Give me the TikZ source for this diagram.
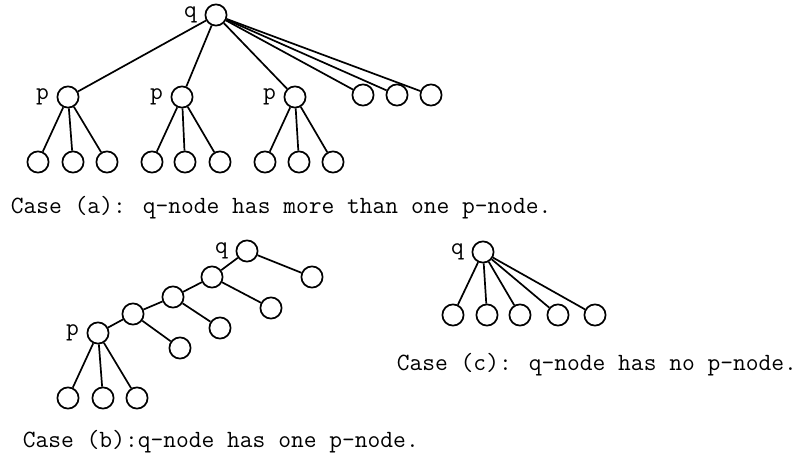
\documentclass[tikz,border=0pt]{standalone}
\usepackage{fontspec}
\usepackage{tikz}

\begin{document}
\begin{tikzpicture}[-,line width=0.85pt,x=0.5pt,y=-0.5pt,font=\ttfamily\fontsize{12.4}{15}\selectfont]
    \tikzstyle{vx}=[draw=black, circle, minimum size=10.6pt, inner sep=0pt, fill=none, text=black]
    \tikzstyle{tag}=[label distance=3.4pt, inner sep=0pt]
    \tikzstyle{caption}=[anchor=west, inner sep=0pt, text=black]

    \useasboundingbox (0,0) rectangle (805,454);

    % case (a): q with three p-children
    \node[vx, label={[tag]left:q}] (qa) at (216,15) {};
    \node[vx, label={[tag]left:p}] (pa1) at (68,97)  {};
    \node[vx, label={[tag]left:p}] (pa2) at (182,97) {};
    \node[vx, label={[tag]left:p}] (pa3) at (295,97) {};
    \node[vx] (ea1) at (363,95) {};
    \node[vx] (ea2) at (397,95) {};
    \node[vx] (ea3) at (431,95) {};
    \foreach \x [count=\i] in {38,73,107,152,185,220,265,299,333}
        \node[vx] (la\i) at (\x,162) {};
    \path
     (qa)  edge[] (pa1)
     (qa)  edge[] (pa2)
     (qa)  edge[] (pa3)
     (qa)  edge[] (ea1)
     (qa)  edge[] (ea2)
     (qa)  edge[] (ea3)
     (pa1) edge[] (la1)
     (pa1) edge[] (la2)
     (pa1) edge[] (la3)
     (pa2) edge[] (la4)
     (pa2) edge[] (la5)
     (pa2) edge[] (la6)
     (pa3) edge[] (la7)
     (pa3) edge[] (la8)
     (pa3) edge[] (la9)
     ;
    \node[caption] (capa) at (10,208) {Case (a): q-node has more than one p-node.};

    % case (b): a chain down to the single p
    \node[vx, label={[tag]left:q}] (qb) at (247,251) {};
    \node[vx] (qbr) at (312,277) {};
    \node[vx] (b1)  at (212,277) {};
    \node[vx] (b1r) at (271,308) {};
    \node[vx] (b2)  at (173,297) {};
    \node[vx] (b2r) at (220,328) {};
    \node[vx] (b3)  at (133,314) {};
    \node[vx] (b3r) at (180,348) {};
    \node[vx, label={[tag]left:p}] (pb) at (98,333) {};
    \foreach \x [count=\i] in {68,103,137}
        \node[vx] (lb\i) at (\x,398) {};
    \path
     (qb) edge[] (qbr)
     (qb) edge[] (b1)
     (b1) edge[] (b1r)
     (b1) edge[] (b2)
     (b2) edge[] (b2r)
     (b2) edge[] (b3)
     (b3) edge[] (b3r)
     (b3) edge[] (pb)
     (pb) edge[] (lb1)
     (pb) edge[] (lb2)
     (pb) edge[] (lb3)
     ;
    \node[caption] (capb) at (22,442) {Case (b):q-node has one p-node.};

    % case (c): q with plain leaves only
    \node[vx, label={[tag]left:q}] (qc) at (483,252) {};
    \foreach \x [count=\i] in {453,487,520,558,595} {
        \node[vx] (lc\i) at (\x,315) {};
        \path (qc) edge[] (lc\i);
    }
    \node[caption] (capc) at (396,365) {Case (c): q-node has no p-node.};
\end{tikzpicture}
\end{document}
